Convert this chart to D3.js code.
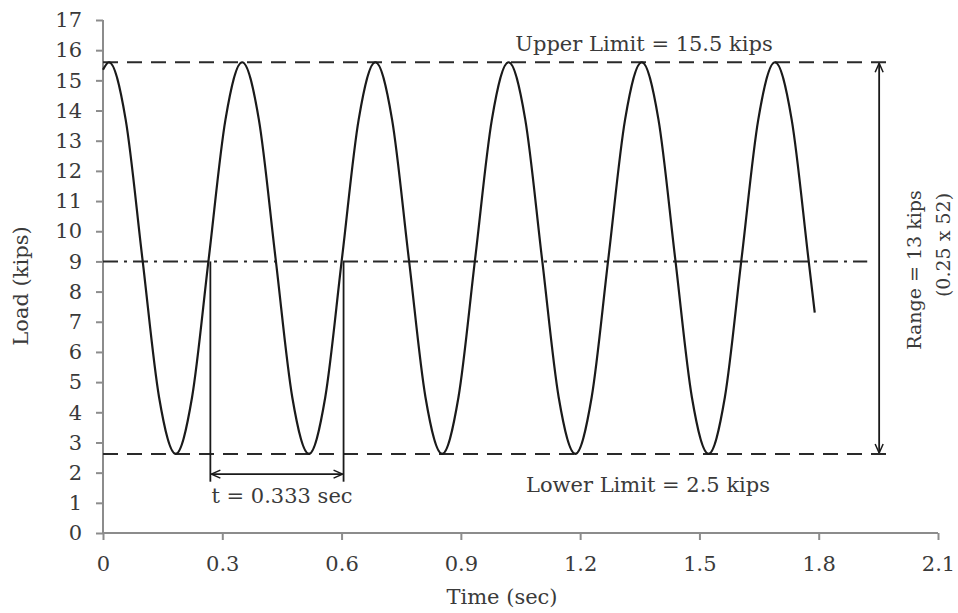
<!DOCTYPE html>
<html>
<head>
<meta charset="utf-8">
<script src="https://cdn.jsdelivr.net/npm/d3@7"></script>
<style>
  html, body { margin: 0; padding: 0; background: #fff; }
  svg text { font-family: "DejaVu Serif", serif; fill: #3a3a3a; }
</style>
</head>
<body>
<div id="chart"></div>
<script>
// load trace (time in sec, load in kips)
const TIME = [0, 0.015, 0.057, 0.099, 0.141, 0.183, 0.224, 0.266, 0.308, 0.350, 0.392, 0.434, 0.476,
  0.518, 0.559, 0.601, 0.643, 0.685, 0.727, 0.769, 0.811, 0.853, 0.894, 0.936, 0.978, 1.020, 1.062,
  1.104, 1.146, 1.188, 1.229, 1.271, 1.313, 1.355, 1.397, 1.439, 1.481, 1.523, 1.564, 1.606, 1.648,
  1.690, 1.732, 1.774, 1.790];
const LOAD = [15.35, 15.6, 13.7, 9.1, 4.5, 2.62, 4.5, 9.1, 13.7, 15.6, 13.7, 9.1, 4.5,
  2.62, 4.5, 9.1, 13.7, 15.6, 13.7, 9.1, 4.5, 2.62, 4.5, 9.1, 13.7, 15.6, 13.7,
  9.1, 4.5, 2.62, 4.5, 9.1, 13.7, 15.6, 13.7, 9.1, 4.5, 2.62, 4.5, 9.1, 13.7,
  15.6, 13.7, 9.1, 7.3];

const X_TICKS = [0, 0.3, 0.6, 0.9, 1.2, 1.5, 1.8, 2.1];
const Y_TICKS = d3.range(0, 18);

// reference lines: [value, end time]
const UPPER = [15.6, 1.99];
const LOWER = [2.62, 1.99];
const MEAN  = [9.0, 1.922];
const RANGE_T = 1.952;
// period marker: start, end, arrow level, bottom of the ticks
const PERIOD = [0.27, 0.605, 1.95, 1.7];

const W = 958, H = 613;
const Mg = { top: 20, right: 20, bottom: 80, left: 103 };
const FS = 21;

const svg = d3.select('#chart').append('svg').attr('width', W).attr('height', H);

const x = d3.scaleLinear().domain([0, 2.1]).range([Mg.left, W - Mg.right]);
const y = d3.scaleLinear().domain([0, 17]).range([H - Mg.bottom, Mg.top]);

const defs = svg.append('defs');
defs.append('marker').attr('id', 'arr').attr('viewBox', '0 0 10 10')
  .attr('refX', 10).attr('refY', 5).attr('markerWidth', 10).attr('markerHeight', 10)
  .attr('markerUnits', 'userSpaceOnUse').attr('orient', 'auto-start-reverse')
  .append('path').attr('d', 'M1,1 L10,5 L1,9').attr('fill', 'none')
  .attr('stroke', '#1a1a1a').attr('stroke-width', 1.5);

// axes
const ax = svg.append('g').attr('transform', `translate(0,${y(0)})`)
  .call(d3.axisBottom(x).tickValues(X_TICKS).tickSize(7).tickPadding(16)
    .tickFormat(d => d === 0 ? '0' : d3.format('.1f')(d)));
const ay = svg.append('g').attr('transform', `translate(${x(0)},0)`)
  .call(d3.axisLeft(y).tickValues(Y_TICKS).tickSize(7).tickPadding(14));
[ax, ay].forEach(g => {
  g.select('.domain').attr('stroke', '#8c8c8c').attr('stroke-width', 2);
  g.selectAll('.tick line').attr('stroke', '#8c8c8c').attr('stroke-width', 2);
  g.selectAll('.tick text').attr('font-size', FS).attr('fill', '#3a3a3a');
});
ay.select('.domain').attr('d', `M0,${y(17)}V${y(0)}`);
ax.select('.domain').attr('d', `M0,0H${x(2.1) - x(0)}`).attr('transform', `translate(${x(0)},0)`);

// reference lines
[UPPER, LOWER].forEach(([v, t]) => {
  svg.append('line').attr('x1', x(0)).attr('x2', x(t)).attr('y1', y(v)).attr('y2', y(v))
    .attr('stroke', '#2a2a2a').attr('stroke-width', 2).attr('stroke-dasharray', '15,9');
});
svg.append('line').attr('x1', x(0)).attr('x2', x(MEAN[1])).attr('y1', y(MEAN[0])).attr('y2', y(MEAN[0]))
  .attr('stroke', '#2a2a2a').attr('stroke-width', 2).attr('stroke-dasharray', '15,6,3,6');

// load trace
const pts = TIME.map((t, i) => [t, LOAD[i]]);
svg.append('path').datum(pts)
  .attr('d', d3.line().x(d => x(d[0])).y(d => y(d[1])).curve(d3.curveMonotoneX))
  .attr('fill', 'none').attr('stroke', '#1a1a1a').attr('stroke-width', 2.2);

// range arrow
svg.append('line').attr('x1', x(RANGE_T)).attr('x2', x(RANGE_T))
  .attr('y1', y(UPPER[0]) + 1).attr('y2', y(LOWER[0]) - 1)
  .attr('stroke', '#1a1a1a').attr('stroke-width', 1.8)
  .attr('marker-start', 'url(#arr)').attr('marker-end', 'url(#arr)');

// period marker
[PERIOD[0], PERIOD[1]].forEach(t => {
  svg.append('line').attr('x1', x(t)).attr('x2', x(t)).attr('y1', y(MEAN[0])).attr('y2', y(PERIOD[3]))
    .attr('stroke', '#1a1a1a').attr('stroke-width', 1.8);
});
svg.append('line').attr('x1', x(PERIOD[0]) + 1).attr('x2', x(PERIOD[1]) - 1)
  .attr('y1', y(PERIOD[2])).attr('y2', y(PERIOD[2]))
  .attr('stroke', '#1a1a1a').attr('stroke-width', 1.8)
  .attr('marker-start', 'url(#arr)').attr('marker-end', 'url(#arr)');

// annotations
const note = (txt, px, py, size, rot) => svg.append('text')
  .attr('transform', `translate(${px},${py})` + (rot ? ` rotate(${rot})` : ''))
  .attr('text-anchor', 'middle').attr('font-size', size).text(txt);

note('Upper Limit = 15.5 kips', 644, y(UPPER[0]) - 11, FS);
note('Lower Limit = 2.5 kips', 648, y(LOWER[0]) + 38, FS);
note('t = 0.333 sec', 282, 503, FS);
note('Time (sec)', 502, 604, FS);
note('Load (kips)', 28, 286, FS, -90);
note('Range = 13 kips', 921, 270, 19, -90);
note('(0.25 x 52)', 950, 245, 19, -90);
</script>
</body>
</html>
